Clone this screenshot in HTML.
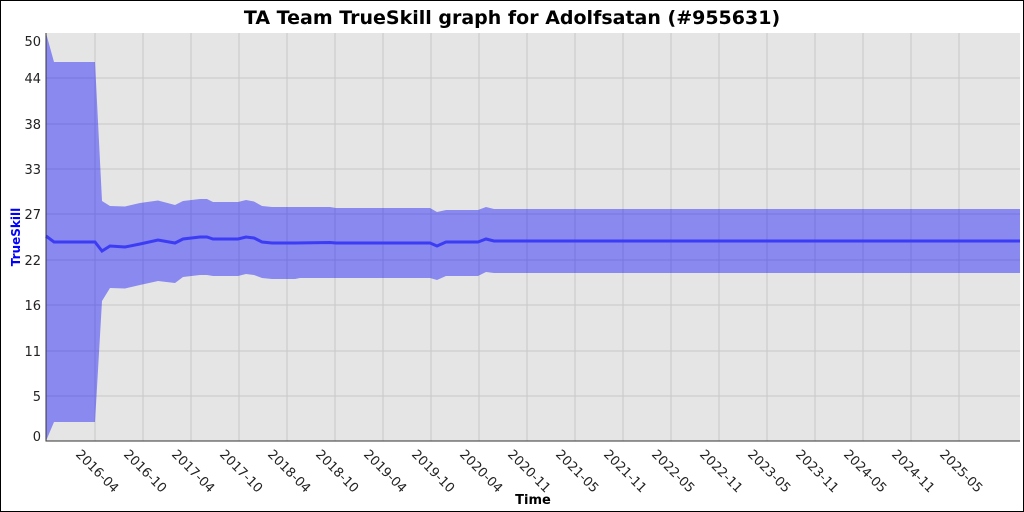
<!DOCTYPE html><html><head><style>body{margin:0}svg{display:block}</style></head><body>
<svg width="1024" height="512" xmlns="http://www.w3.org/2000/svg" font-family="DejaVu Sans, Liberation Sans, sans-serif">
<rect x="0.5" y="0.5" width="1023" height="511" fill="#fff" stroke="#000"/>
<text x="512" y="24" text-anchor="middle" font-size="19" font-weight="bold">TA Team TrueSkill graph for Adolfsatan (#955631)</text>
<rect x="46" y="33" width="974" height="408" fill="#e5e5e5"/>
<g stroke="#c8c8c8" stroke-width="1">
<path d="M46 78H1020M46 124H1020M46 169H1020M46 214H1020M46 260H1020M46 305H1020M46 351H1020M46 396H1020"/>
<path d="M95 33V441M143 33V441M191 33V441M239 33V441M287 33V441M335 33V441M383 33V441M431 33V441M479 33V441M527 33V441M575 33V441M623 33V441M671 33V441M719 33V441M767 33V441M815 33V441M863 33V441M911 33V441M959 33V441"/>
</g>
<path fill="#0000ff" fill-opacity="0.4" d="M46 33L54 62L95 62L102 201L110 206L125 206.5L140 203L158 200.5L175 205L183 201L200 199L207 199L213 202L238 202L246 200L254 201.5L262 206L272 207L330 207L336 208L430 208L437 212L446 210L478 210L486 207L494 209L1020 209L1020 273L494 273L486 272L478 276L446 276L437 280L430 278L300 278L295 279L272 279L262 278L254 275L246 274L238 276L213 276L207 275L200 275L183 277L175 283L158 281L140 285L125 288.5L110 288L102 301L95 422L54 422L46 441Z"/>
<path fill="none" stroke="#3c3cf5" stroke-width="3" d="M46 236L54 242L95 242L102 251L110 246L125 247L140 244L158 240L175 243L183 239L200 237L207 237L213 239L238 239L246 237L254 238L262 242L272 243L295 243L330 242.5L336 243L430 243L437 246L446 242L478 242L486 239L494 241L1020 241"/>
<path d="M46 33V441H1020" fill="none" stroke="#333" stroke-width="1"/>
<g font-size="13" fill="#222" text-anchor="end">
<text x="41" y="46">50</text><text x="41" y="83">44</text><text x="41" y="129">38</text><text x="41" y="174">33</text><text x="41" y="219">27</text><text x="41" y="265">22</text><text x="41" y="310">16</text><text x="41" y="356">11</text><text x="41" y="401">5</text><text x="41" y="441">0</text>
</g>
<g font-size="13" fill="#222">
<text transform="translate(75,455) rotate(45)">2016-04</text>
<text transform="translate(123,455) rotate(45)">2016-10</text>
<text transform="translate(171,455) rotate(45)">2017-04</text>
<text transform="translate(219,455) rotate(45)">2017-10</text>
<text transform="translate(267,455) rotate(45)">2018-04</text>
<text transform="translate(315,455) rotate(45)">2018-10</text>
<text transform="translate(363,455) rotate(45)">2019-04</text>
<text transform="translate(411,455) rotate(45)">2019-10</text>
<text transform="translate(459,455) rotate(45)">2020-04</text>
<text transform="translate(507,455) rotate(45)">2020-11</text>
<text transform="translate(555,455) rotate(45)">2021-05</text>
<text transform="translate(603,455) rotate(45)">2021-11</text>
<text transform="translate(651,455) rotate(45)">2022-05</text>
<text transform="translate(699,455) rotate(45)">2022-11</text>
<text transform="translate(747,455) rotate(45)">2023-05</text>
<text transform="translate(795,455) rotate(45)">2023-11</text>
<text transform="translate(843,455) rotate(45)">2024-05</text>
<text transform="translate(891,455) rotate(45)">2024-11</text>
<text transform="translate(939,455) rotate(45)">2025-05</text>
</g>
<text x="533" y="504" text-anchor="middle" font-size="13" font-weight="bold">Time</text>
<text transform="translate(20,237) rotate(-90)" text-anchor="middle" font-size="12" font-weight="bold" fill="#0000ff">TrueSkill</text>
</svg></body></html>
